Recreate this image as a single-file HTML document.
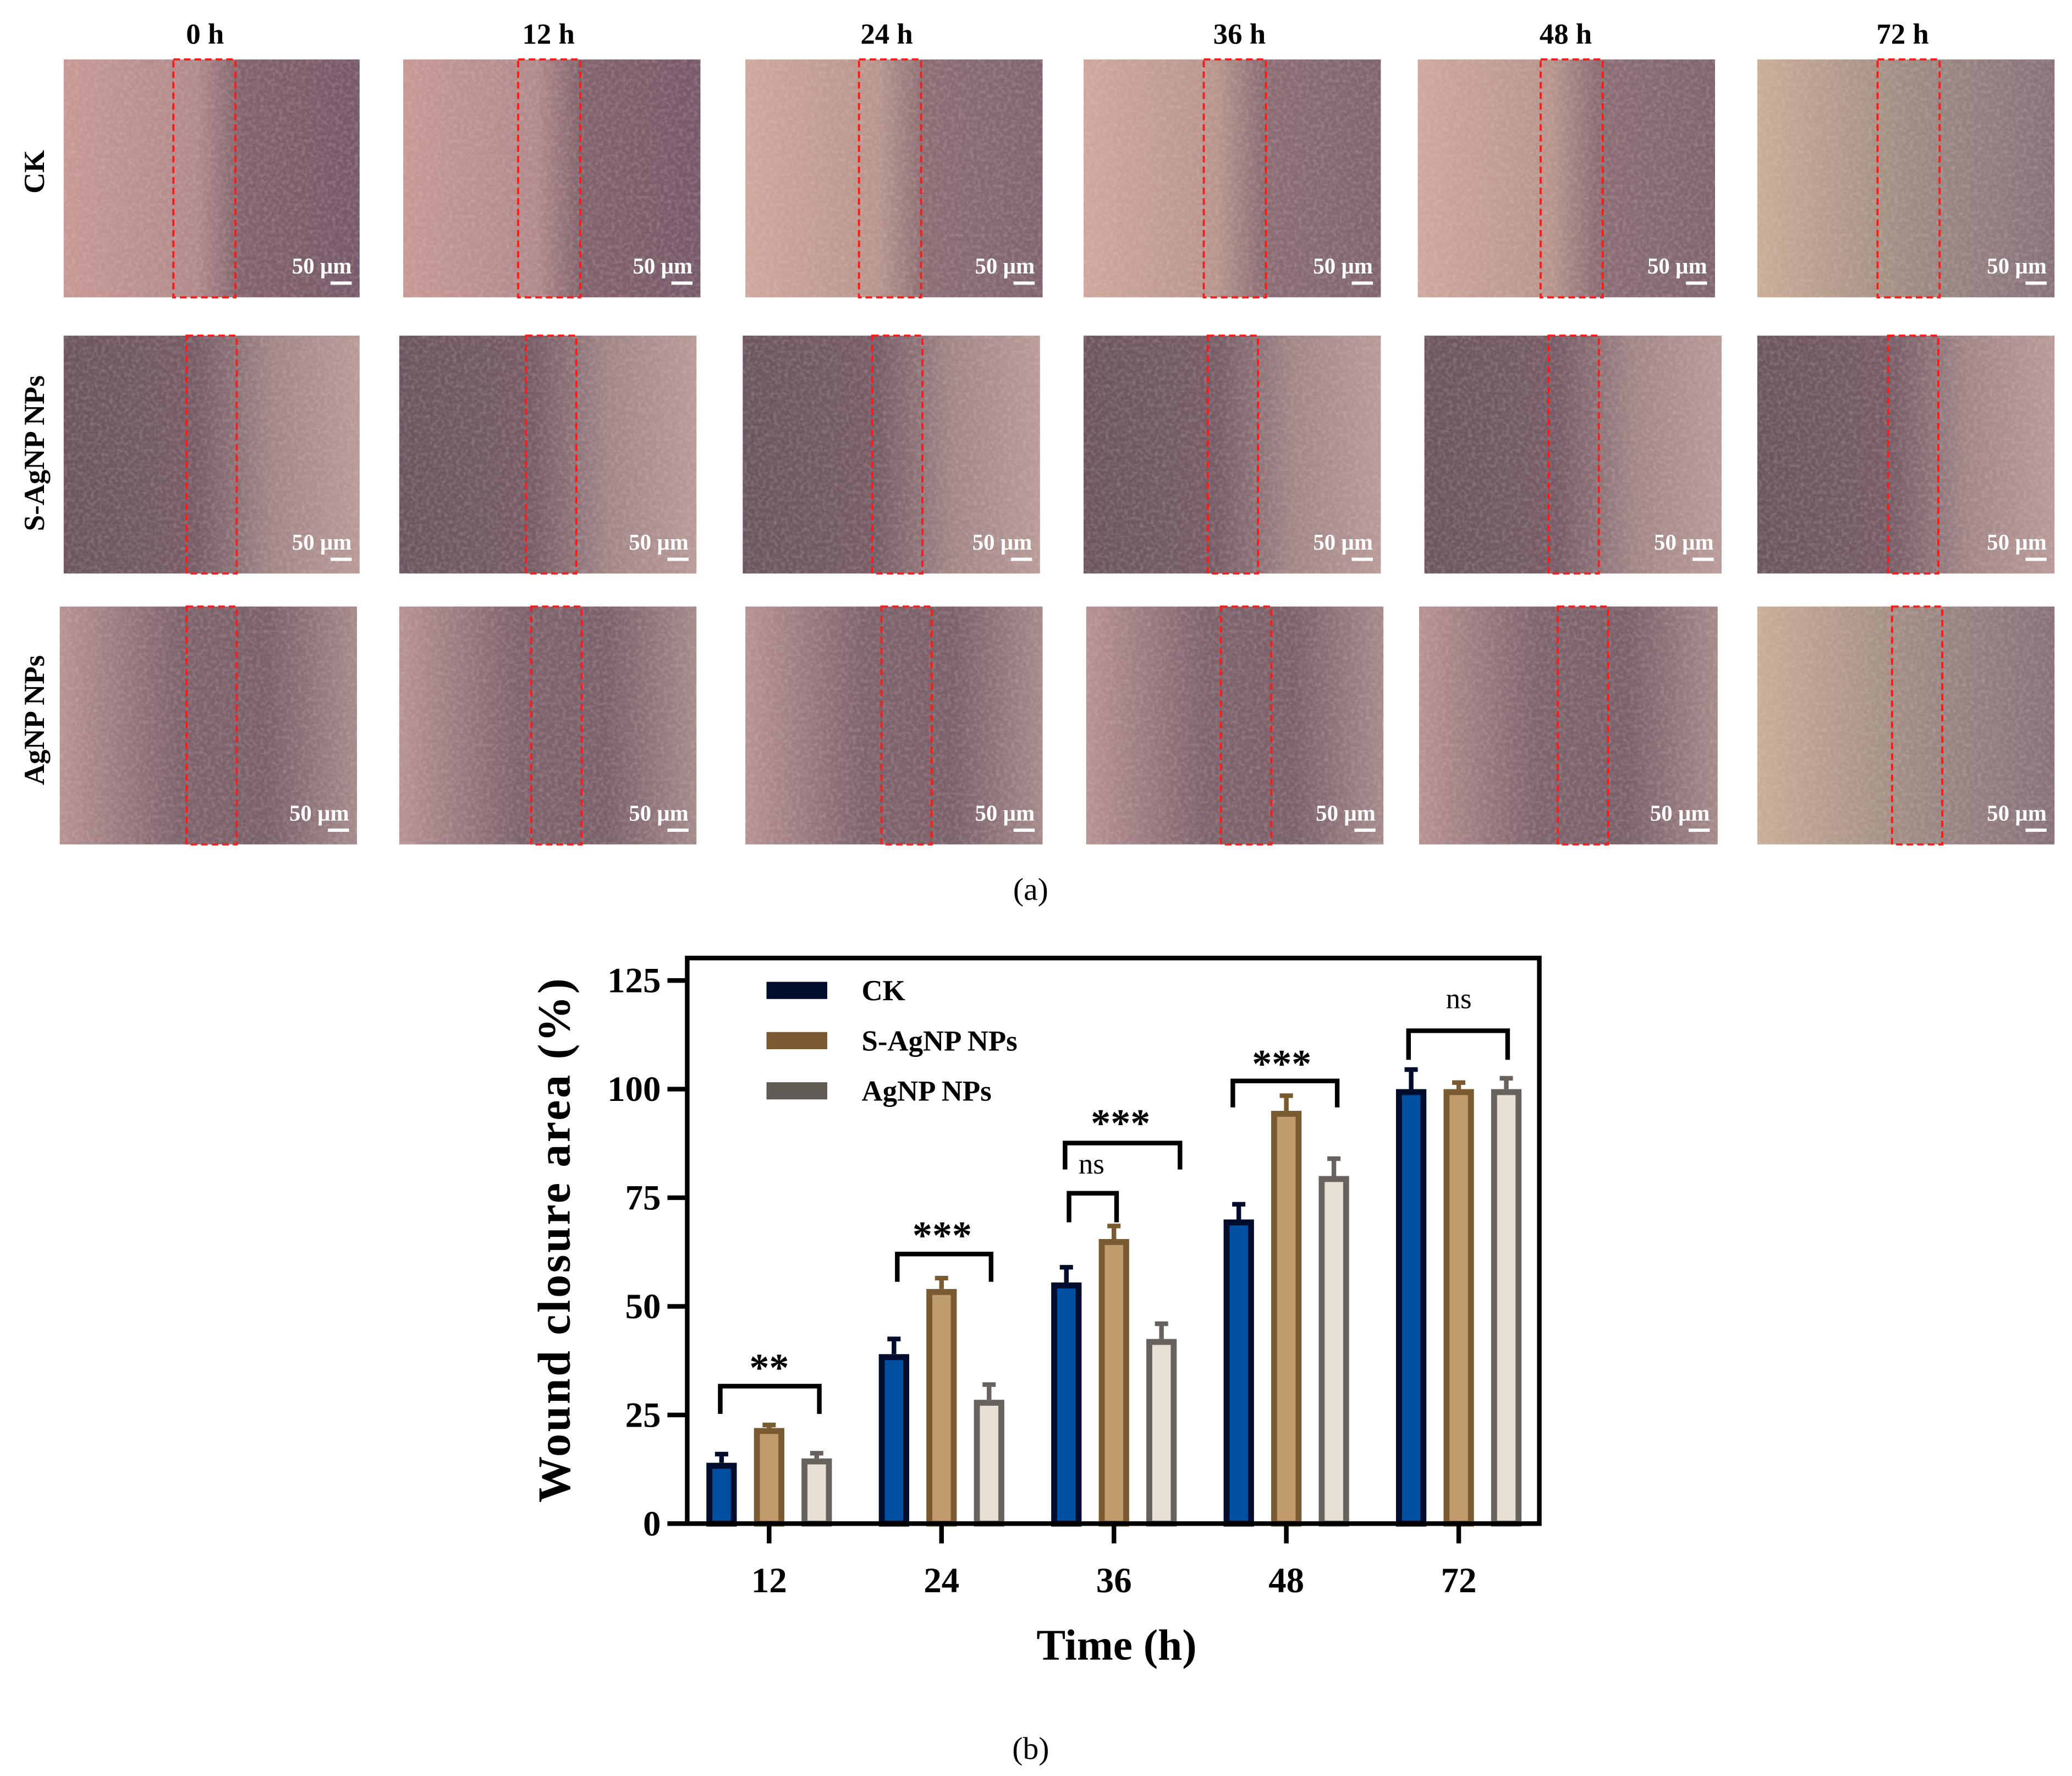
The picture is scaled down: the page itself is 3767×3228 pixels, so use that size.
<!DOCTYPE html>
<html><head><meta charset="utf-8"><style>
html,body{margin:0;padding:0;background:#fff}
svg{display:block}
text{font-family:"Liberation Serif",serif}
</style></head><body>
<svg id="fig" width="3767" height="3228" viewBox="0 0 1568 1344" xmlns="http://www.w3.org/2000/svg">
<defs>
<linearGradient id="gA" x1="0" x2="1"><stop offset="0" stop-color="#c79896"/><stop offset="0.45" stop-color="#b08a8c"/><stop offset="0.6" stop-color="#80636c"/><stop offset="1" stop-color="#76596a"/></linearGradient>
<linearGradient id="gB" x1="0" x2="1"><stop offset="0" stop-color="#cfa79c"/><stop offset="0.45" stop-color="#b6958e"/><stop offset="0.6" stop-color="#8a6e74"/><stop offset="1" stop-color="#7e6470"/></linearGradient>
<linearGradient id="gC" x1="0" x2="1"><stop offset="0" stop-color="#c9ad96"/><stop offset="0.5" stop-color="#a08c84"/><stop offset="1" stop-color="#86717a"/></linearGradient>
<linearGradient id="gD" x1="0" x2="1"><stop offset="0" stop-color="#6c5560"/><stop offset="0.45" stop-color="#765c66"/><stop offset="0.7" stop-color="#a08686"/><stop offset="1" stop-color="#b89a98"/></linearGradient>
<linearGradient id="gE" x1="0" x2="1"><stop offset="0" stop-color="#b79292"/><stop offset="0.4" stop-color="#7d636c"/><stop offset="0.7" stop-color="#7a6069"/><stop offset="1" stop-color="#a48a8a"/></linearGradient>
<filter id="nz" x="0" y="0" width="1" height="1"><feTurbulence type="fractalNoise" baseFrequency="0.35" numOctaves="2" seed="3"/><feColorMatrix values="0 0 0 0 0.9  0 0 0 0 0.75  0 0 0 0 0.7  0 0 0 0.9 -0.35"/><feComposite in2="SourceGraphic" operator="in"/></filter>
</defs>
<g id="panel-a"></g>
<text x="780" y="681" text-anchor="middle" font-size="24">(a)</text>
<text x="780" y="1331" text-anchor="middle" font-size="24">(b)</text>
<g id="chart"></g>
</svg>
<script>
const NS='http://www.w3.org/2000/svg';
function mk(parent,tag,attrs,txt){const e=document.createElementNS(NS,tag);for(const k in attrs)e.setAttribute(k,attrs[k]);if(txt!==undefined)e.textContent=txt;parent.appendChild(e);return e;}
// ---- Panel a ----
const pa=document.getElementById('panel-a');
const timeLabels=['0 h','12 h','24 h','36 h','48 h','72 h'];
const headerX=[155,415,671,938,1185,1440];
const rowNames=['CK','S-AgNP NPs','AgNP NPs'];
const rowY=[[45,225],[254,434],[459,639]];
const colX=[[[48,272],[305,530],[564,789],[820,1045],[1073,1298],[1330,1555]],
[[48,272],[302,527],[562,787],[820,1045],[1078,1303],[1330,1555]],
[[45,270],[302,527],[564,789],[822,1047],[1074,1300],[1330,1555]]];
const boxX=[[131,392,650,911,1166,1421],[141,398,660,914,1172,1429],[141,402,667,924,1179,1432]];
const boxW=[47,38,38];
const grads=[['gA','gA','gB','gB','gB','gC'],['gD','gD','gD','gD','gD','gD'],['gE','gE','gE','gE','gE','gC']];
timeLabels.forEach((t,i)=>{const e=mk(pa,'text',{x:headerX[i],y:33,'text-anchor':'middle','font-size':22,'font-weight':'bold'},t);

});
const rowLabY=[130,343,545];
rowNames.forEach((n,r)=>{const e=mk(pa,'text',{x:0,y:0,transform:`translate(33,${rowLabY[r]}) rotate(-90)`,'text-anchor':'middle','font-size':22,'font-weight':'bold'},n);

});
for(let r=0;r<3;r++)for(let c=0;c<6;c++){
 const [x0,x1]=colX[r][c],[y0,y1]=rowY[r];
 const g=mk(pa,'g',{});
 
 
 mk(g,'rect',{x:x0,y:y0,width:x1-x0,height:y1-y0,fill:`url(#${grads[r][c]})`});
 mk(g,'rect',{x:x0,y:y0,width:x1-x0,height:y1-y0,fill:'#fff',filter:'url(#nz)',opacity:0.5});
 const b=mk(g,'rect',{x:boxX[r][c],y:y0,width:boxW[r],height:y1-y0,fill:'none',stroke:'#ff1a1a','stroke-width':1.6,'stroke-dasharray':'5 3'});
 
 
 const s=mk(g,'text',{x:x1-6,y:y1-18,'text-anchor':'end','font-size':17,'font-weight':'bold',fill:'#fff'},'50 µm');
 
 
 mk(g,'rect',{x:x1-22,y:y1-12,width:16,height:2.5,fill:'#fff'});
}
// ---- Chart ----
const categories=['12','24','36','48','72'];
const ckValues=[14,39,55.5,70,100];
const sagValues=[22,54,65.5,95,100];
const agValues=[15,28.5,42.5,80,100];
const ckErr=[2,3.5,3.5,3.5,4.5];
const sagErr=[0.7,2.5,3,3.5,1.5];
const agErr=[1.2,3.5,3.5,4,2.5];
const yTicks=[0,25,50,75,100,125];
const seriesNames=['CK','S-AgNP NPs','AgNP NPs'];
const ch=document.getElementById('chart');
const L=520,R=1165,T=725,B=1153;
const y=v=>1153-v*(1153-742)/125;
const X=i=>582+i*((1104-582)/4);
const fills=['#0050a2','#c09b6b','#e8dfd4'],strokes=['#000d2c','#7a5a31','#67625d'],legendFills=['#000d2c','#7a5a31','#605b55'];
const series=[ckValues,sagValues,agValues],errs=[ckErr,sagErr,agErr];
const offs=[-36,0,36],bw=23;
series.forEach((vals,s)=>vals.forEach((v,i)=>{
 const cx=X(i)+offs[s];
 const e=mk(ch,'line',{x1:cx,x2:cx,y1:y(v),y2:y(v+errs[s][i]),stroke:strokes[s],'stroke-width':3.5});
 
 
 mk(ch,'line',{x1:cx-5,x2:cx+5,y1:y(v+errs[s][i]),y2:y(v+errs[s][i]),stroke:strokes[s],'stroke-width':3.5});
 const b=mk(ch,'rect',{x:cx-bw/2+2.25,y:y(v)+2.25,width:bw-4.5,height:y(0)-y(v)-2.25,fill:fills[s],stroke:strokes[s],'stroke-width':4.5});
 
 
}));
const frame=mk(ch,'rect',{x:L,y:T,width:R-L,height:B-T,fill:'none',stroke:'#000','stroke-width':3.5});


mk(ch,'line',{x1:505,x2:L,y1:B,y2:B,stroke:'#000','stroke-width':3.5});
yTicks.forEach(t=>{mk(ch,'line',{x1:505,x2:L,y1:y(t),y2:y(t),stroke:'#000','stroke-width':3.5});
 const e=mk(ch,'text',{x:500,y:y(t)+9,'text-anchor':'end','font-size':27,'font-weight':'bold'},t);
 
 });
categories.forEach((c,i)=>{mk(ch,'line',{x1:X(i),x2:X(i),y1:B,y2:B+15,stroke:'#000','stroke-width':3.5});
 const e=mk(ch,'text',{x:X(i),y:1205,'text-anchor':'middle','font-size':27,'font-weight':'bold'},c);
 
 });
const xt=mk(ch,'text',{x:845,y:1256,'text-anchor':'middle','font-size':33,'font-weight':'bold'},'Time (h)');


const yt=mk(ch,'text',{x:0,y:0,transform:'translate(431,938) rotate(-90)','text-anchor':'middle','font-size':35,'font-weight':'bold','letter-spacing':1.5},'Wound closure area (%)');


seriesNames.forEach((n,s)=>{const ly=749+s*38;
 const sw=mk(ch,'rect',{x:580,y:ly-6,width:46,height:13,fill:legendFills[s]});
 
 
 const e=mk(ch,'text',{x:652,y:ly+8,'font-size':22,'font-weight':'bold'},n);
 
 });
const brackets=[[545,620,1049,1070,'**',582,1045,true],[679,750,949,970,'***',713,945,true],[806,893,865,885,'***',848,860,true],[809,845,903,925,'ns',826,888,false],[933,1012,818,838,'***',970,815,true],[1066,1141,780,802,'ns',1104,763,false]];
brackets.forEach(b=>{const p=mk(ch,'path',{d:`M${b[0]},${b[3]}V${b[2]}H${b[1]}V${b[3]}`,fill:'none',stroke:'#000','stroke-width':3.5});
 
 
 const e=mk(ch,'text',{x:b[5],y:b[6],'text-anchor':'middle','font-size':b[7]?30:22,'font-weight':b[7]?'bold':'normal'},b[4]);
 
 });
</script>
</body></html>
